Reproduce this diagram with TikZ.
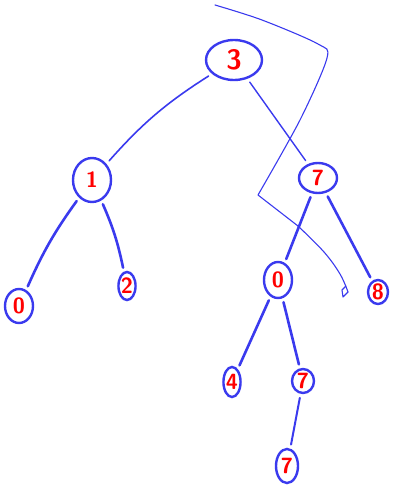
\documentclass[tikz,border=0pt]{standalone}
\usepackage{tikz}
\usetikzlibrary{shapes.geometric}
\definecolor{pen}{RGB}{58,58,238}
\definecolor{ink}{RGB}{255,0,0}

\begin{document}
\begin{tikzpicture}[x=1pt,y=-1pt,
  knot/.style={ellipse,draw=pen,line width=2.4pt,inner sep=0pt,text=ink,
    font=\sffamily\bfseries\fontsize{22}{22}\selectfont},
  twig/.style={draw=pen,line width=2.6pt,line cap=round,shorten <=4pt,shorten >=4pt},
  trace/.style={draw=pen,line width=1.1pt,line cap=round,line join=round}]
  \useasboundingbox (0,0) rectangle (397,487);
  % Wurzel
  \node[knot,minimum width=56pt,minimum height=40pt,font=\sffamily\bfseries\fontsize{28}{28}\selectfont] (r3) at (234,60) {3};
  % linker Teilbaum
  \node[knot,minimum width=38pt,minimum height=44pt] (l1) at (92,180) {1};
  \node[knot,minimum width=28pt,minimum height=34pt] (l0) at (19,306) {0};
  \node[knot,minimum width=16pt,minimum height=28pt] (l2) at (127,286) {2};
  % rechter Teilbaum
  \node[knot,minimum width=38pt,minimum height=30pt] (r7) at (318,178) {7};
  \node[knot,minimum width=28pt,minimum height=36pt] (m0) at (278,280) {0};
  \node[knot,minimum width=20pt,minimum height=24pt] (r8) at (378,292) {8};
  \node[knot,minimum width=16pt,minimum height=30pt] (m4) at (232,382) {4};
  \node[knot,minimum width=22pt,minimum height=24pt] (m7) at (303,381) {7};
  \node[knot,minimum width=22pt,minimum height=34pt] (b7) at (287,466) {7};
  % Kanten
  \draw[twig,line width=1.6pt] (r3) to[bend right=8] (l1);
  \draw[twig,line width=1.4pt] (r3) -- (r7);
  \draw[twig] (l1) to[bend right=6] (l0);
  \draw[twig] (l1) to[bend left=6] (l2);
  \draw[twig] (r7) -- (m0);
  \draw[twig] (r7) -- (r8);
  \draw[twig] (m0) -- (m4);
  \draw[twig] (m0) -- (m7);
  \draw[twig,line width=2pt] (m7) -- (b7);
  % Rotationsstrich
  \draw[trace] plot[smooth,tension=0.5] coordinates {(215,5) (262,20) (318,44) (327,58) (300,120) (258,195)}
    -- (298,226);
  \draw[trace] plot[smooth,tension=0.6] coordinates {(298,226) (324,252) (340,274) (348,292)};
  \draw[trace] (348,292) -- (343,297) -- (342,290) -- (346,286);
\end{tikzpicture}
\end{document}
